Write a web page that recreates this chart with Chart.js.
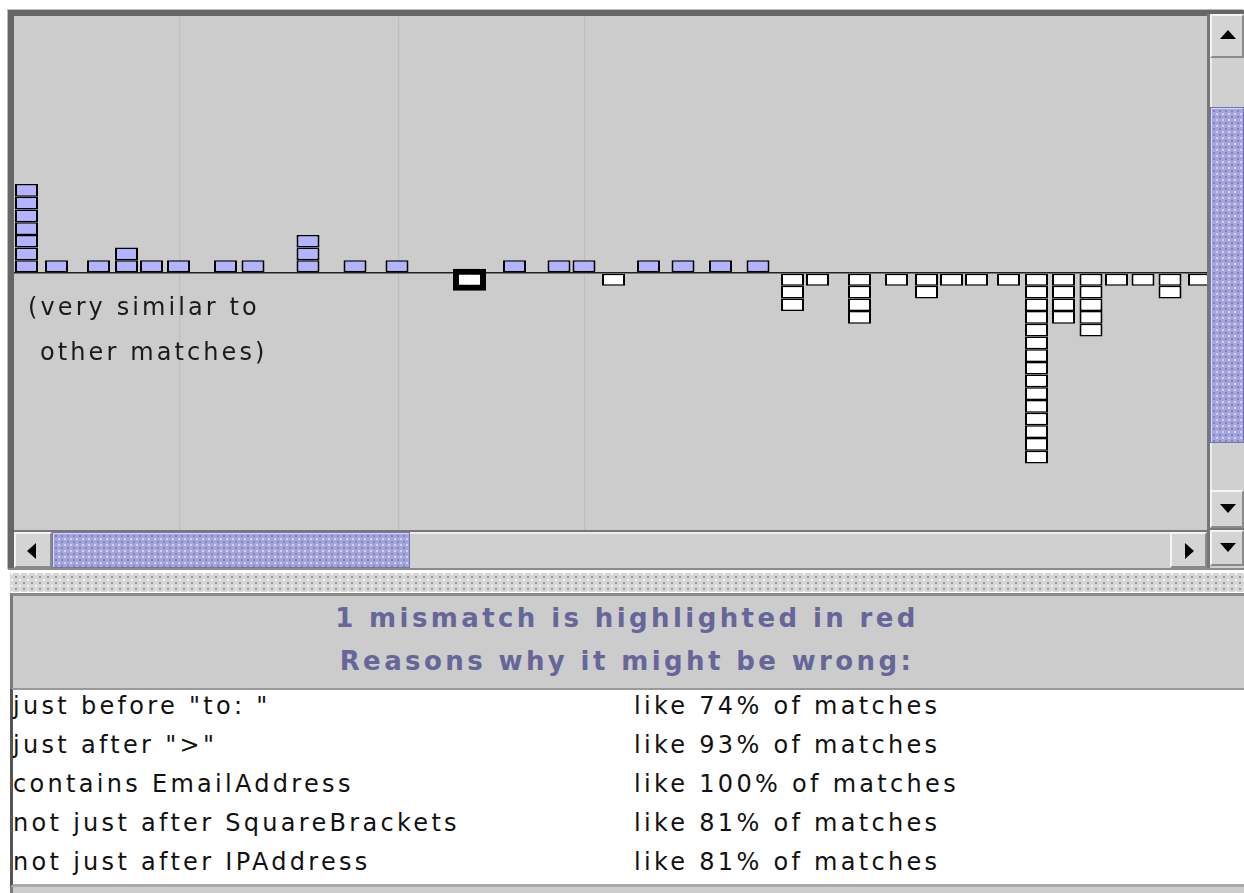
<!DOCTYPE html>
<html>
<head>
<meta charset="utf-8">
<script src="https://cdn.jsdelivr.net/npm/chart.js@4.4.0/dist/chart.umd.min.js"></script>
<style>
  body { margin: 0; background: #fff; width: 1244px; height: 893px; position: relative; overflow: hidden; font-family: "DejaVu Sans", sans-serif; }
  .abs { position: absolute; box-sizing: border-box; }
  #frame { left: 8px; top: 10px; width: 1236px; height: 560px; background: #ccc; border-left: 6px solid #666; border-top: 6px solid #666; box-shadow: -1px -1px 0 #bbb; }
  #plotBox { left: 14px; top: 17px; width: 1193px; height: 513px; background: #cccccc; }
  .note { font-size: 24px; color: #1a1a1a; letter-spacing: 3.1px; white-space: pre; }
  .btn { background: #d4d4d4; border-top: 2px solid #f4f4f4; border-left: 2px solid #f4f4f4; border-right: 2px solid #8a8a8a; border-bottom: 2px solid #8a8a8a; }
  .thumb { background-color: #a5a5dc; background-image: radial-gradient(circle, #8383c0 1px, transparent 1.4px), radial-gradient(circle, #d0d0f4 1px, transparent 1.4px); background-size: 6px 6px, 6px 6px; background-position: 0 0, 3px 3px; border: 1px solid #7474b0; box-shadow: inset 1px 1px 0 #d6d6f6; }
  .tri { position: absolute; width: 0; height: 0; }
  #splitter { left: 10px; top: 573px; width: 1234px; height: 19px; background-color: #d6d6d6; background-image: radial-gradient(circle, #999 0.9px, transparent 1.3px), radial-gradient(circle, #f4f4f4 0.9px, transparent 1.3px); background-size: 8px 6px, 8px 6px; background-position: 2px 1px, 6px 4px; }
  #lower { left: 10px; top: 593px; width: 1234px; height: 300px; background: #ccc; border-top: 3px solid #8a8a8a; border-left: 3px solid #7a7a7a; }
  .title { left: 10px; width: 1234px; text-align: center; font-weight: bold; font-size: 26px; color: #666699; letter-spacing: 3.4px; }
  #table { left: 10px; top: 688px; width: 1234px; height: 199px; background: #fff; border-top: 2px solid #9a9a9a; border-left: 3px solid #555; border-bottom: 3px solid #a8a8a8; }
  .cell { font-size: 24px; color: #111; letter-spacing: 3.3px; white-space: pre; }
</style>
</head>
<body>
<div id="frame" class="abs"></div>
<div id="plotBox" class="abs"><canvas id="plot" width="1193" height="513"></canvas></div>
<div class="abs note" style="left:28px; top:293px;">(very similar to</div>
<div class="abs note" style="left:40px; top:338px;">other matches)</div>

<!-- vertical scrollbar -->
<div class="abs" style="left:1207px; top:14px; width:3px; height:556px; background:#777;"></div>
<div class="abs" style="left:1210px; top:14px; width:34px; height:554px; background:#cfcfcf;"></div>
<div class="abs btn" style="left:1210px; top:14px; width:34px; height:44px;"><div class="tri" style="left:8px; top:14px; border-left:8px solid transparent; border-right:8px solid transparent; border-bottom:9px solid #000;"></div></div>
<div class="abs" style="left:1210px; top:58px; width:34px; height:49px; background:#d0d0d0; border-left:2px solid #eee;"></div>
<div class="abs thumb" style="left:1210px; top:107px; width:34px; height:336px;"></div>
<div class="abs" style="left:1210px; top:443px; width:34px; height:47px; background:#d0d0d0; border-left:2px solid #eee;"></div>
<div class="abs btn" style="left:1210px; top:490px; width:34px; height:38px;"><div class="tri" style="left:8px; top:12px; border-left:8px solid transparent; border-right:8px solid transparent; border-top:9px solid #000;"></div></div>
<div class="abs" style="left:1210px; top:528px; width:34px; height:2px; background:#777;"></div>
<div class="abs btn" style="left:1210px; top:530px; width:34px; height:36px;"><div class="tri" style="left:8px; top:11px; border-left:8px solid transparent; border-right:8px solid transparent; border-top:9px solid #000;"></div></div>

<!-- horizontal scrollbar -->
<div class="abs" style="left:14px; top:530px; width:1193px; height:2px; background:#777;"></div>
<div class="abs" style="left:14px; top:532px; width:1193px; height:36px; background:#d0d0d0; border-top:2px solid #eee;"></div>
<div class="abs btn" style="left:14px; top:532px; width:38px; height:36px;"><div class="tri" style="left:11px; top:9px; border-top:8px solid transparent; border-bottom:8px solid transparent; border-right:9px solid #000;"></div></div>
<div class="abs thumb" style="left:52px; top:532px; width:358px; height:36px;"></div>
<div class="abs btn" style="left:1170px; top:532px; width:37px; height:36px;"><div class="tri" style="left:13px; top:9px; border-top:8px solid transparent; border-bottom:8px solid transparent; border-left:9px solid #000;"></div></div>
<div class="abs" style="left:8px; top:568px; width:1236px; height:2px; background:#888;"></div>
<div class="abs" style="left:8px; top:570px; width:1236px; height:3px; background:#fff;"></div>

<div id="splitter" class="abs"></div>
<div id="lower" class="abs"></div>
<div class="abs title" style="top:603px;">1 mismatch is highlighted in red</div>
<div class="abs title" style="top:646px;">Reasons why it might be wrong:</div>
<div id="table" class="abs"></div>
<div id="rows"></div>

<script>
// horizontal position of each stack (plot units) and how many boxes it holds
// positive = above the line (purple), negative = below (white)
const positions = [12.5, 42.5, 84.5, 112.5, 137.5, 164.5, 211.5, 239, 294, 341, 383,
    455.5, 500.5, 545, 570, 599.5, 634.5, 669, 706.5, 744,
    778.5, 803.5, 845.5, 882.5, 912.5, 937.5, 962.5, 994.5, 1022.5, 1049.5, 1077,
    1102.5, 1129, 1156, 1185.5];
const counts = [7, 1, 1, 2, 1, 1, 1, 1, 3, 1, 1,
    -1, 1, 1, 1, -1, 1, 1, 1, 1,
    -3, -1, -4, -1, -2, -1, -1, -1, -15, -4, -5,
    -1, -1, -2, -1];
const mismatchIndex = 11;   // the highlighted one
const gridMarks = [166, 385, 571];

const reasons = ['just before "to: "', 'just after ">"', 'contains EmailAddress', 'not just after SquareBrackets', 'not just after IPAddress'];
const shares = ['like 74% of matches', 'like 93% of matches', 'like 100% of matches', 'like 81% of matches', 'like 81% of matches'];

// table rows
let rowsDiv = document.getElementById("rows");
reasons.forEach((r, i) => {
    let top = 692 + i * 39;
    let a = document.createElement("div");
    a.className = "abs cell";
    a.style.left = "13px";
    a.style.top = top + "px";
    a.textContent = r;
    rowsDiv.appendChild(a);
    let b = document.createElement("div");
    b.className = "abs cell";
    b.style.left = "634px";
    b.style.top = top + "px";
    b.textContent = shares[i];
    rowsDiv.appendChild(b);
});

// one dataset per layer, each box is one unit
let maxLayer = Math.max(...counts.map(c => Math.abs(c)));
let datasets = [];
for (let k = 1; k <= maxLayer; k++) {
    let pts = [];
    counts.forEach((c, i) => {
        if (Math.abs(c) >= k) {
            pts.push({ x: positions[i], y: Math.sign(c), hl: i === mismatchIndex });
        }
    });
    datasets.push({
        data: pts,
        barThickness: 23,
        borderSkipped: false,
        borderColor: "#000",
        backgroundColor: (ctx) => (ctx.raw && ctx.raw.y > 0 ? "#b3b3ff" : "#ffffff"),
        borderWidth: (ctx) => (ctx.raw && ctx.raw.hl ? 6 : { top: 1.5, bottom: 1.5, left: 2, right: 2 }),
        inflateAmount: (ctx) => (ctx.raw && ctx.raw.hl ? 5 : 0),
    });
}

new Chart(document.getElementById("plot").getContext("2d"), {
    type: "bar",
    data: { datasets: datasets },
    options: {
        responsive: false,
        animation: false,
        devicePixelRatio: 1,
        layout: { padding: 0 },
        plugins: { legend: { display: false }, tooltip: { enabled: false } },
        scales: {
            x: {
                type: "linear",
                min: 0,
                max: 1193,
                offset: false,
                stacked: true,
                ticks: { display: false },
                grid: { color: "#bdbdbd", lineWidth: 1.2, drawTicks: false, offset: false },
                border: { display: false },
                afterBuildTicks: (axis) => { axis.ticks = gridMarks.map(v => ({ value: v })); },
            },
            y: {
                type: "linear",
                min: -20.24,
                max: 20.16,
                stacked: true,
                ticks: { display: false },
                grid: { color: "#222", lineWidth: 1.6, drawTicks: false },
                border: { display: false },
                afterBuildTicks: (axis) => { axis.ticks = [{ value: 0 }]; },
            },
        },
    },
});
</script>
</body>
</html>
